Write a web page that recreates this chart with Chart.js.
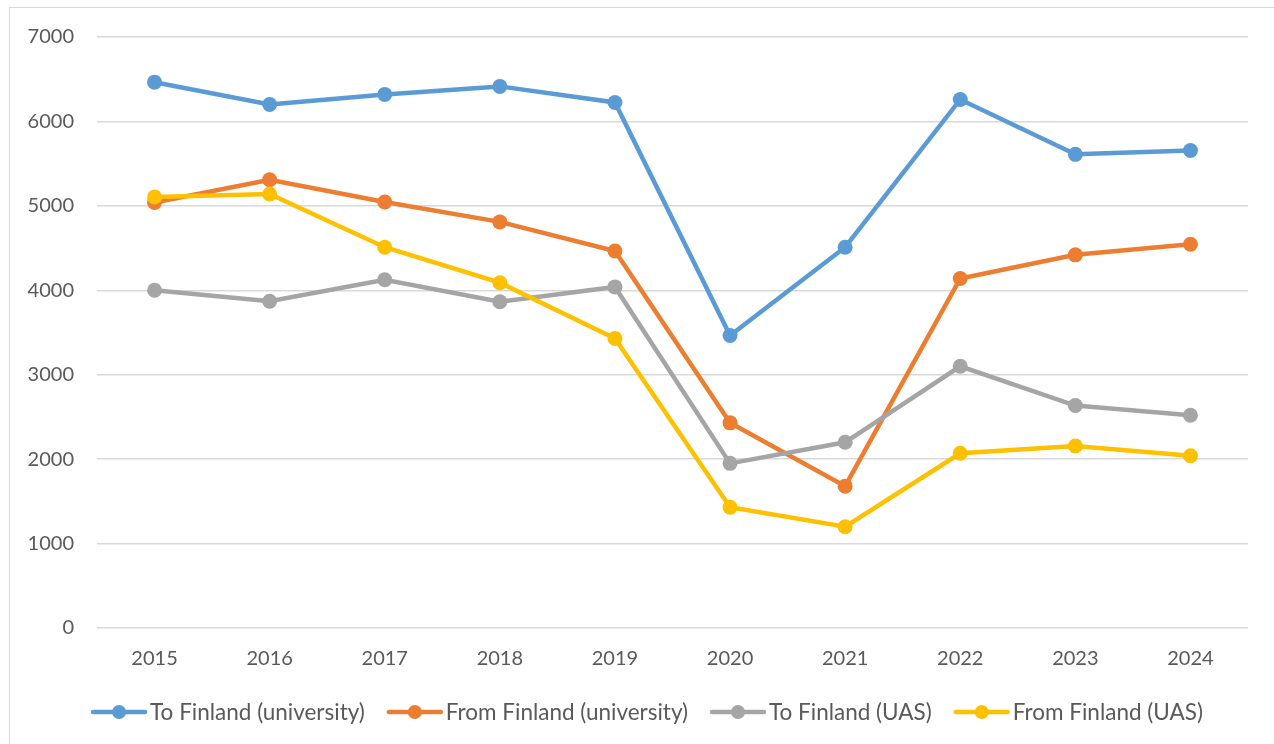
<!DOCTYPE html>
<html>
<head>
<meta charset="utf-8">
<script src="https://cdn.jsdelivr.net/npm/chart.js@4/dist/chart.umd.min.js"></script>
<style>
  html, body { margin: 0; padding: 0; background: #fff; overflow: hidden; }
  #frame { position: absolute; left: 9px; top: 7px; width: 1400px; height: 900px; border: 1.5px solid #d9d9d9; box-sizing: border-box; }
  #wrap { position: absolute; left: 0; top: 0; width: 1274px; height: 744px; }
</style>
</head>
<body>
<div id="frame"></div>
<div id="wrap"><canvas id="c"></canvas></div>
<script>
const years = ["2015","2016","2017","2018","2019","2020","2021","2022","2023","2024"];
const seriesNames = ["To Finland (university)", "From Finland (university)", "To Finland (UAS)", "From Finland (UAS)"];
const toFinlandUniversity   = [6465, 6200, 6320, 6415, 6225, 3465, 4510, 6260, 5610, 5655];
const fromFinlandUniversity = [5040, 5310, 5045, 4810, 4465, 2430, 1680, 4140, 4420, 4545];
const toFinlandUAS          = [4000, 3870, 4125, 3865, 4040, 1950, 2200, 3100, 2635, 2520];
const fromFinlandUAS        = [5105, 5140, 4510, 4090, 3430, 1430, 1200, 2070, 2155, 2040];
const yTicks = [0, 1000, 2000, 3000, 4000, 5000, 6000, 7000];

const colors = ["#5B9BD5", "#ED7D31", "#A5A5A5", "#FFC000"];
const FONT = "Lato, 'Open Sans', sans-serif";
const TEXT = "#595959";

function ds(i, data) {
  return {
    label: seriesNames[i], data,
    borderColor: colors[i], backgroundColor: colors[i],
    pointBackgroundColor: colors[i], pointBorderColor: colors[i],
    borderWidth: 4.5, pointRadius: 7.5, pointHoverRadius: 7.5, pointBorderWidth: 0,
    tension: 0, order: 3 - i
  };
}

const legendPlugin = {
  id: 'customLegend',
  afterDraw(chart) {
    const ctx = chart.ctx;
    ctx.save();
    ctx.font = "22.5px " + FONT;
    const lineLen = 56, gapText = 3, gapItem = 22;
    const items = chart.data.datasets.map(d => ({ label: d.label, color: d.borderColor, w: ctx.measureText(d.label).width }));
    const total = items.reduce((s, it) => s + lineLen + gapText + it.w, 0) + gapItem * (items.length - 1);
    let x = 647 - total / 2;
    const y = 712;
    ctx.textBaseline = "middle";
    items.forEach(it => {
      ctx.strokeStyle = it.color; ctx.lineWidth = 4.5; ctx.lineCap = "round";
      ctx.beginPath(); ctx.moveTo(x + 2, y); ctx.lineTo(x + lineLen - 2, y); ctx.stroke();
      ctx.fillStyle = it.color;
      ctx.beginPath(); ctx.arc(x + lineLen / 2, y, 7, 0, Math.PI * 2); ctx.fill();
      ctx.fillStyle = TEXT; ctx.textAlign = "left";
      ctx.fillText(it.label, x + lineLen + gapText, y + 1);
      x += lineLen + gapText + it.w + gapItem;
    });
    ctx.restore();
  }
};

new Chart(document.getElementById('c'), {
  type: 'line',
  data: {
    labels: years,
    datasets: [ds(0, toFinlandUniversity), ds(1, fromFinlandUniversity), ds(2, toFinlandUAS), ds(3, fromFinlandUAS)]
  },
  options: {
    responsive: true, maintainAspectRatio: false, animation: false,
    layout: { padding: { left: 10, top: 37, right: 26, bottom: 16 } },
    plugins: { legend: { display: false }, tooltip: { enabled: false } },
    scales: {
      x: {
        offset: true,
        grid: { display: false, drawTicks: false },
        border: { display: false },
        ticks: { color: TEXT, font: { family: FONT, size: 20 }, padding: 19, maxRotation: 0 },
        afterFit(s) { s.height = 100; }
      },
      y: {
        min: 0, max: 7000,
        afterBuildTicks(s) { s.ticks = yTicks.map(v => ({ value: v })); },
        grid: { color: "#d9d9d9", lineWidth: 1.5, drawTicks: false },
        border: { display: false },
        ticks: { color: TEXT, font: { family: FONT, size: 20 }, padding: 23, callback: v => String(v) },
        afterFit(s) { s.width = 87; }
      }
    }
  },
  plugins: [legendPlugin]
});
</script>
</body>
</html>
